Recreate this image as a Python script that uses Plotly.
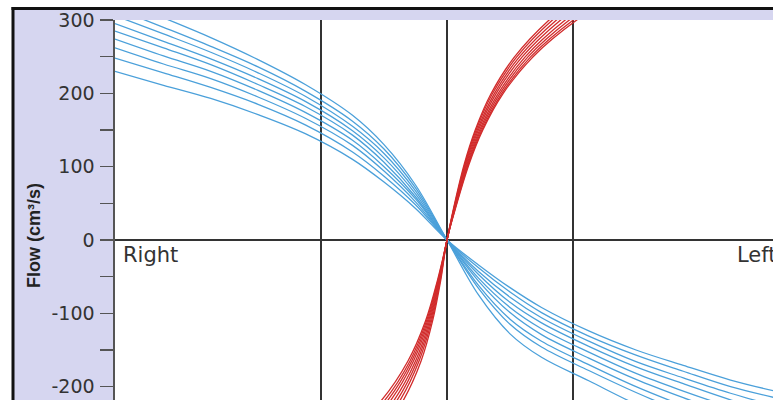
import plotly.graph_objects as go

# ---- data ----
blue_x = [-2.635, -2.25, -1.875, -1.5, -1.125, -0.75, -0.5, -0.25, 0,
          0.25, 0.5, 0.75, 1.125, 1.5, 1.875, 2.25, 2.6]
blue_flow_1 = [330, 303, 276, 246, 212, 170, 130, 75, 0, -75, -128, -160, -192, -224, -252, -278, -300]
blue_flow_2 = [316, 290, 264, 236, 203, 162, 124, 71, 0, -66, -115, -146, -178, -208, -235, -260, -280]
blue_flow_3 = [306, 281, 256, 228, 196, 155, 118, 67, 0, -62, -108, -138, -170, -200, -226, -250, -270]
blue_flow_4 = [295, 271, 247, 220, 189, 149, 112, 63, 0, -56, -99, -129, -161, -190, -215, -238, -257]
blue_flow_5 = [285, 262, 239, 212, 182, 143, 106, 59, 0, -52, -92, -121, -153, -182, -206, -228, -246]
blue_flow_6 = [274, 251, 230, 204, 174, 136, 100, 56, 0, -47, -85, -113, -145, -173, -196, -218, -235]
blue_flow_7 = [262, 240, 220, 195, 166, 129, 94, 52, 0, -43, -78, -106, -138, -166, -188, -209, -226]
blue_flow_8 = [248, 228, 208, 185, 157, 120, 87, 48, 0, -38, -71, -99, -131, -157, -179, -200, -215]
blue_flow_9 = [230, 211, 193, 171, 145, 110, 79, 43, 0, -34, -65, -92, -124, -150, -171, -191, -206]

red_flow = [-260, -219, -165, -110, -55, 0, 34, 103, 150, 199, 250, 300, 330]
red_x_1 = [-0.768, -0.522, -0.310, -0.170, -0.076, 0, 0.040, 0.136, 0.224, 0.348, 0.537, 0.810, 1.030]
red_x_2 = [-0.730, -0.496, -0.294, -0.162, -0.072, 0, 0.042, 0.141, 0.231, 0.359, 0.555, 0.837, 1.065]
red_x_3 = [-0.694, -0.472, -0.280, -0.154, -0.068, 0, 0.043, 0.146, 0.240, 0.373, 0.576, 0.869, 1.106]
red_x_4 = [-0.659, -0.448, -0.266, -0.146, -0.065, 0, 0.045, 0.152, 0.249, 0.387, 0.598, 0.902, 1.147]
red_x_5 = [-0.621, -0.422, -0.250, -0.138, -0.061, 0, 0.047, 0.158, 0.259, 0.403, 0.622, 0.938, 1.193]
red_x_6 = [-0.586, -0.398, -0.236, -0.130, -0.058, 0, 0.049, 0.164, 0.268, 0.417, 0.644, 0.971, 1.234]
red_x_7 = [-0.550, -0.374, -0.222, -0.122, -0.054, 0, 0.050, 0.169, 0.277, 0.431, 0.665, 1.003, 1.275]
red_x_8 = [-0.512, -0.348, -0.206, -0.114, -0.050, 0, 0.052, 0.174, 0.284, 0.442, 0.683, 1.030, 1.310]

grid_x = [-1, 0, 1]
y_tickvals = [-200, -100, 0, 100, 200, 300]
y_ticktext = ["-200", "-100", "0", "100", "200", "300"]
y_minor = [-150, -50, 50, 150, 250]
side_labels = ["Right", "Left"]
y_title = "Flow (cm³/s)"

# ---- figure ----
W, H = 773, 400
L, T = 115, 20
PW, PH = W - L, H - T

def xp(px):
    return (px - L) / PW

def yp(py):
    return 1 - (py - T) / PH

BLUE = "#4ba0da"
RED = "#d12b2b"
INK = "#333333"
LAV = "#d6d6f0"

fig = go.Figure()
for ys in [blue_flow_1, blue_flow_2, blue_flow_3, blue_flow_4, blue_flow_5,
           blue_flow_6, blue_flow_7, blue_flow_8, blue_flow_9]:
    fig.add_trace(go.Scatter(x=blue_x, y=ys, mode="lines",
                             line=dict(color=BLUE, width=1.3, shape="spline", smoothing=1.0),
                             hoverinfo="skip", showlegend=False))
for xs in [red_x_1, red_x_2, red_x_3, red_x_4, red_x_5, red_x_6, red_x_7, red_x_8]:
    fig.add_trace(go.Scatter(x=xs, y=red_flow, mode="lines",
                             line=dict(color=RED, width=1.3, shape="spline", smoothing=1.0),
                             hoverinfo="skip", showlegend=False))

shapes = [
    dict(type="rect", xref="paper", yref="paper", x0=xp(13.5), x1=0, y0=-0.1, y1=yp(9.5),
         fillcolor=LAV, line=dict(width=0), layer="below"),
    dict(type="rect", xref="paper", yref="paper", x0=0, x1=1.05, y0=1, y1=yp(9.5),
         fillcolor=LAV, line=dict(width=0), layer="below"),
    dict(type="line", xref="paper", yref="paper", x0=xp(11.5), x1=1.05, y0=yp(8.5), y1=yp(8.5),
         line=dict(color="#111111", width=3)),
    dict(type="line", xref="paper", yref="paper", x0=xp(13), x1=xp(13), y0=-0.1, y1=yp(7),
         line=dict(color="#111111", width=3)),
]

annotations = [
    dict(text=side_labels[0], xref="paper", yref="y", x=xp(121), y=-21, xanchor="left",
         yanchor="middle", showarrow=False, font=dict(family="DejaVu Sans", size=21, color=INK)),
    dict(text=side_labels[1], xref="paper", yref="y", x=xp(735), y=-21, xanchor="left",
         yanchor="middle", showarrow=False, font=dict(family="DejaVu Sans", size=21, color=INK)),
    dict(text=y_title, xref="paper", yref="paper", x=xp(34), y=yp(236), xanchor="center",
         yanchor="middle", textangle=-90, showarrow=False,
         font=dict(family="Liberation Sans, Arial", size=18, color="#222222", weight="bold")),
]

fig.update_layout(
    width=W, height=H,
    margin=dict(l=L, r=0, t=T, b=0, pad=0),
    paper_bgcolor="white", plot_bgcolor="white",
    shapes=shapes, annotations=annotations,
    xaxis=dict(range=[-2.635, 2.587], tickvals=grid_x, showticklabels=False, ticks="",
               showgrid=True, gridcolor="#333333", gridwidth=1.6, zeroline=False,
               showline=False, fixedrange=True),
    yaxis=dict(range=[-218.2, 300], tickvals=y_tickvals, ticktext=y_ticktext,
               ticks="outside", ticklen=13, tickwidth=1.5, tickcolor="#555555",
               minor=dict(tickvals=y_minor, ticks="outside", ticklen=13, tickwidth=1.5,
                          tickcolor="#555555", showgrid=False),
               showgrid=False, zeroline=True, zerolinecolor="#333333", zerolinewidth=1.2,
               showline=True, linecolor="#555555", linewidth=1.6,
               tickfont=dict(family="DejaVu Sans", size=19, color=INK),
               ticklabelstandoff=2, fixedrange=True),
)

fig.write_html("out.html", config={"displayModeBar": False, "staticPlot": True},
               post_script="document.body.style.margin='0';document.body.style.overflow='hidden';")
